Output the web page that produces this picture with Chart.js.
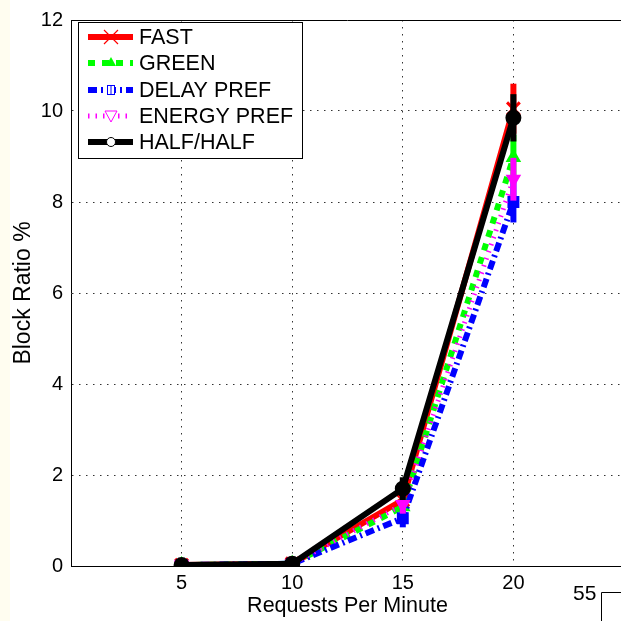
<!DOCTYPE html>
<html>
<head>
<meta charset="utf-8">
<script src="https://cdn.jsdelivr.net/npm/chart.js@4"></script>
<style>
  html, body { margin: 0; padding: 0; background: #fff; overflow: hidden; width: 621px; height: 621px; }
  canvas { position: absolute; left: 0; top: 0; }
</style>
</head>
<body>
<canvas id="blockChart" width="640" height="621"></canvas>
<script>
// datos
const requests = [5, 10, 15, 20];
const fast = [0.02, 0.05, 1.45, 10.05];
const green = [0.02, 0.05, 1.3, 8.98];
const delayPref = [0.02, 0.05, 1.05, 8.0];
const energyPref = [0.02, 0.05, 1.35, 8.5];
const halfHalf = [0.02, 0.05, 1.7, 9.85];
// barras de error
const fastErr = [0, 0, 0.2, 0.55];
const greenErr = [0, 0, 0.2, 0.5];
const delayErr = [0, 0, 0.2, 0.45];
const energyErr = [0, 0, 0.2, 0.47];
const halfErr = [0, 0, 0.25, 0.52];

const xTicks = [5, 10, 15, 20];
const yTicks = [0, 2, 4, 6, 8, 10, 12];

const FONT = 'Liberation Sans, Arial, Helvetica, sans-serif';

function pts(arr) {
    return arr.map((v, i) => ({ x: requests[i], y: v }));
}

const series = [
    { label: 'FAST', data: fast, err: fastErr, color: '#ff0000', dash: [], width: 6, style: 'crossRot', order: 5 },
    { label: 'GREEN', data: green, err: greenErr, color: '#00ff00', dash: [7, 7], width: 6, style: 'triangle', order: 4 },
    { label: 'DELAY PREF', data: delayPref, err: delayErr, color: '#0000ff', dash: [9, 4, 2, 4], width: 6, style: 'rect', order: 3 },
    { label: 'ENERGY PREF', data: energyPref, err: energyErr, color: '#ff00ff', dash: [1.5, 6], width: 5, style: 'triangle', rot: 180, order: 2 },
    { label: 'HALF/HALF', data: halfHalf, err: halfErr, color: '#000000', dash: [], width: 6, style: 'circle', order: 1 }
];

const datasets = series.map(s => ({
    label: s.label,
    data: pts(s.data),
    errors: s.err,
    borderColor: s.color,
    backgroundColor: s.color,
    borderWidth: s.width,
    borderDash: s.dash,
    borderCapStyle: 'butt',
    tension: 0,
    pointStyle: s.style,
    pointRotation: s.rot || 0,
    pointRadius: s.style === 'crossRot' ? 9 : 7,
    pointBorderWidth: s.style === 'crossRot' ? 3 : 2,
    pointBackgroundColor: s.color,
    pointBorderColor: s.color,
    order: s.order
}));

// barras de error, antes de cada serie
const errorBars = {
    id: 'errorBars',
    beforeDatasetDraw(chart, args) {
        const ds = chart.data.datasets[args.index];
        const yScale = chart.scales.y;
        const xScale = chart.scales.x;
        const c = chart.ctx;
        c.save();
        c.strokeStyle = ds.borderColor;
        c.lineWidth = 6;
        ds.data.forEach((p, i) => {
            const e = ds.errors[i];
            if (!e) return;
            const px = xScale.getPixelForValue(p.x);
            c.beginPath();
            c.moveTo(px, yScale.getPixelForValue(p.y - e));
            c.lineTo(px, yScale.getPixelForValue(p.y + e));
            c.stroke();
        });
        c.restore();
    }
};

// marco, leyenda y detalles
const extras = {
    id: 'extras',
    beforeDraw(chart) {
        const c = chart.ctx;
        c.save();
        c.fillStyle = '#fffdf0';
        c.fillRect(0, 0, 10, chart.height);
        c.restore();
    },
    afterDraw(chart) {
        const c = chart.ctx;
        const a = chart.chartArea;
        c.save();
        // borde superior
        c.strokeStyle = '#000';
        c.lineWidth = 1;
        c.beginPath();
        c.moveTo(a.left, a.top + 0.5);
        c.lineTo(a.right, a.top + 0.5);
        c.stroke();

        // leyenda
        const bx = 78, by = 22, bw = 224, bh = 136;
        c.fillStyle = '#fff';
        c.fillRect(bx, by, bw, bh);
        c.strokeRect(bx + 0.5, by + 0.5, bw, bh);
        const rows = [37, 63, 90, 116, 142];
        series.forEach((s, i) => {
            const y = rows[i];
            c.save();
            c.strokeStyle = s.color;
            c.lineWidth = s.width;
            c.lineCap = 'butt';
            c.setLineDash(s.dash);
            c.beginPath();
            c.moveTo(88, y);
            c.lineTo(133, y);
            c.stroke();
            c.restore();
            c.save();
            c.strokeStyle = s.color;
            c.fillStyle = s.color;
            c.lineWidth = 1;
            const mx = 111;
            c.beginPath();
            if (s.style === 'crossRot') {
                c.lineWidth = 1.2;
                c.moveTo(mx - 7, y - 7); c.lineTo(mx + 7, y + 7);
                c.moveTo(mx - 7, y + 7); c.lineTo(mx + 7, y - 7);
                c.stroke();
            } else if (s.style === 'triangle' && !s.rot) {
                c.moveTo(mx, y - 6); c.lineTo(mx + 5, y + 3); c.lineTo(mx - 5, y + 3); c.closePath();
                c.fill();
            } else if (s.style === 'rect') {
                c.fillStyle = '#fff';
                c.fillRect(mx - 4, y - 5, 8, 10);
                c.strokeRect(mx - 3.5, y - 4.5, 7, 9);
                c.beginPath(); c.moveTo(mx, y - 5); c.lineTo(mx, y + 5); c.stroke();
            } else if (s.style === 'triangle') {
                c.fillStyle = '#fff';
                c.moveTo(mx - 6, y - 5); c.lineTo(mx + 6, y - 5); c.lineTo(mx, y + 6); c.closePath();
                c.fill(); c.stroke();
            } else {
                c.fillStyle = '#fff';
                c.arc(mx, y, 4.5, 0, Math.PI * 2);
                c.fill(); c.stroke();
            }
            c.restore();
            c.fillStyle = '#000';
            c.font = '21.5px ' + FONT;
            c.textBaseline = 'middle';
            c.textAlign = 'left';
            c.fillText(s.label, 139, y + 1);
        });

        // numero de pagina
        c.fillStyle = '#000';
        c.font = '21px ' + FONT;
        c.textBaseline = 'middle';
        c.textAlign = 'left';
        c.fillText('55', 573, 594);
        c.beginPath();
        c.moveTo(601.5, 621);
        c.lineTo(601.5, 592.5);
        c.lineTo(621, 592.5);
        c.stroke();
        c.restore();
    }
};

const ctx = document.getElementById('blockChart');

new Chart(ctx, {
    type: 'line',
    data: { datasets: datasets },
    plugins: [errorBars, extras],
    options: {
        responsive: false,
        animation: false,
        devicePixelRatio: 1,
        layout: { padding: { left: 0, top: 13, right: 16, bottom: 0 } },
        plugins: {
            legend: { display: false },
            tooltip: { enabled: false }
        },
        scales: {
            x: {
                type: 'linear',
                min: 0,
                max: 25,
                afterBuildTicks: scale => { scale.ticks = xTicks.map(v => ({ value: v })); },
                afterFit: scale => { scale.height = 55; },
                ticks: {
                    color: '#000',
                    font: { family: FONT, size: 20 },
                    padding: 5,
                    maxRotation: 0
                },
                grid: {
                    color: '#333',
                    lineWidth: 1,
                    drawTicks: false
                },
                border: { display: true, color: '#000', width: 1, dash: [1.5, 5.5] },
                title: {
                    display: true,
                    text: 'Requests Per Minute',
                    color: '#000',
                    font: { family: FONT, size: 21.5 },
                    padding: { top: 0, bottom: 2 }
                }
            },
            y: {
                min: 0,
                max: 12,
                afterBuildTicks: scale => { scale.ticks = yTicks.map(v => ({ value: v })); },
                afterFit: scale => { scale.width = 71; },
                ticks: {
                    color: '#000',
                    font: { family: FONT, size: 20 },
                    padding: 8
                },
                grid: {
                    color: c => (c.tick && (c.tick.value === 0 || c.tick.value === 12)) ? 'rgba(0,0,0,0)' : '#333',
                    lineWidth: 1,
                    drawTicks: false
                },
                border: { display: true, color: '#000', width: 1, dash: [1.5, 5.5] },
                title: {
                    display: true,
                    text: 'Block Ratio %',
                    color: '#000',
                    font: { family: FONT, size: 23 },
                    padding: { top: 10, bottom: 0 }
                }
            }
        }
    }
});
</script>
</body>
</html>
